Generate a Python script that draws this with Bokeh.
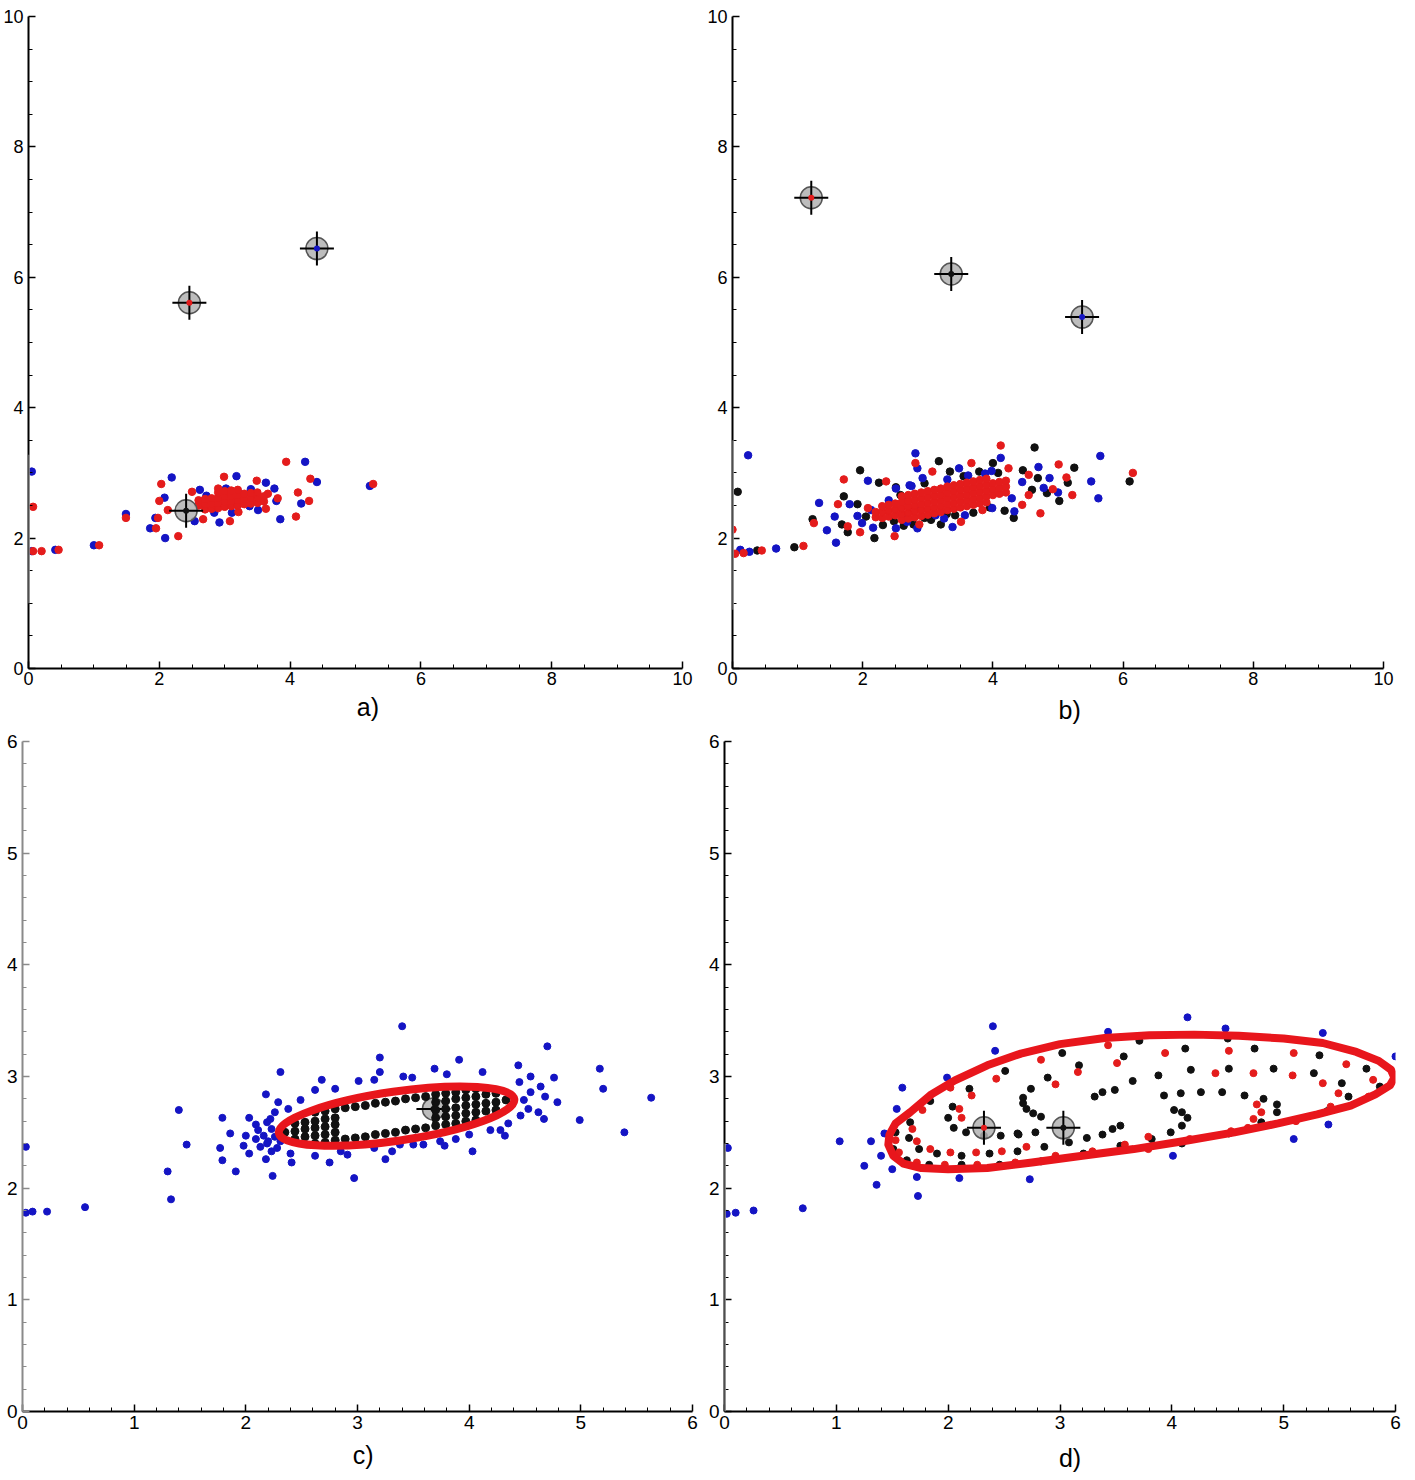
from bokeh.plotting import figure
from bokeh.layouts import column, row
from bokeh.models import Range1d, FixedTicker, LinearAxis, Arrow
from bokeh.embed import file_html
from bokeh.resources import INLINE

FONT = "Liberation Sans"
BLUE = "#1414c4"
RED = "#e41c1c"
BLACK = "#111111"
RING = "#e8161c"

# ---------------- panel a ----------------
a_blue_x = [0.05, 0.05, 0.41, 1.00, 1.49, 1.86, 1.94, 2.09, 2.08, 2.19, 2.62, 2.54, 2.92, 3.02, 3.18, 2.84,
            3.11, 3.63, 3.76, 3.51, 3.79, 3.85, 4.23, 4.41, 4.17, 2.72, 3.40, 3.25, 3.15, 2.95, 3.38, 5.22]
a_blue_y = [3.02, 1.80, 1.82, 1.89, 2.37, 2.15, 2.31, 2.00, 2.62, 2.93, 2.74, 2.26, 2.24, 2.76, 2.95, 2.39,
            2.39, 2.85, 2.76, 2.43, 2.57, 2.29, 3.17, 2.86, 2.53, 2.65, 2.75, 2.67, 2.54, 2.57, 2.49, 2.80]
a_red_x = [0.07, 0.07, 0.20, 0.46, 1.08, 1.49, 1.95, 1.98, 2.29, 2.03, 2.00, 2.13, 2.50, 2.67, 2.99, 2.90,
           3.08, 3.21, 3.49, 3.63, 3.66, 3.94, 4.12, 4.09, 4.31, 4.29, 3.81, 5.27,
           2.60, 2.60, 2.70, 2.70, 2.70, 2.80, 2.80, 2.80, 2.90, 2.90, 2.90, 2.90, 3.00, 3.00, 3.00, 3.00,
           3.10, 3.10, 3.10, 3.10, 3.20, 3.20, 3.20, 3.20, 3.30, 3.30, 3.30, 3.40, 3.40, 3.40, 3.50, 3.50,
           3.50, 3.60, 3.60]
a_red_y = [2.48, 1.80, 1.80, 1.82, 1.89, 2.31, 2.15, 2.31, 2.03, 2.83, 2.57, 2.43, 2.71, 2.29, 2.94, 2.76,
           2.26, 2.40, 2.88, 2.45, 2.68, 3.17, 2.70, 2.33, 2.91, 2.57, 2.61, 2.83,
           2.50, 2.58, 2.44, 2.52, 2.60, 2.45, 2.53, 2.61, 2.46, 2.54, 2.62, 2.70, 2.48, 2.56, 2.64, 2.72,
           2.49, 2.57, 2.65, 2.73, 2.50, 2.58, 2.66, 2.74, 2.52, 2.60, 2.68, 2.53, 2.61, 2.69, 2.54, 2.62,
           2.70, 2.56, 2.64]
a_mark_x = [2.46, 4.41, 2.41]
a_mark_y = [5.61, 6.44, 2.42]
a_mark_c = [RED, BLUE, BLACK]

# ---------------- panel b ----------------
b_black_x = [0.08, 0.38, 0.95, 1.23, 1.68, 1.71, 1.77, 1.92, 1.96, 2.18, 2.25, 2.05, 2.31, 2.51, 2.63, 2.95,
             4.64, 3.17, 4.00, 3.79, 4.46, 5.25, 6.10, 5.15, 4.69, 4.83, 5.02, 4.32, 4.18, 4.60, 3.20, 3.29, 3.34,
             2.48, 2.78, 3.05, 3.42, 3.70, 3.95, 2.58, 2.95, 3.55, 4.08]
b_black_y = [2.71, 1.81, 1.86, 2.29, 2.21, 2.64, 2.09, 2.52, 3.04, 2.00, 2.85, 2.33, 2.20, 2.78, 2.19, 2.31,
             3.39, 3.18, 3.15, 3.02, 3.04, 3.08, 2.87, 2.85, 2.92, 2.69, 2.57, 2.31, 2.42, 2.74, 2.21, 2.37, 3.02,
             2.26, 2.21, 2.28, 2.35, 2.39, 2.47, 2.66, 2.84, 2.95, 3.00]
b_blue_x = [0.24, 0.12, 0.26, 0.67, 1.33, 1.45, 1.59, 1.57, 1.80, 1.92, 1.99, 2.08, 2.16, 2.13, 2.81, 2.72,
            2.92, 2.51, 4.12, 3.48, 4.70, 5.65, 5.51, 5.62, 4.87, 4.78, 5.00, 4.33, 4.29, 4.45, 3.38, 3.57,
            3.99, 3.98, 2.51, 2.64, 2.81, 2.84, 2.61, 2.84, 3.12, 2.40, 2.68, 3.25, 3.62, 3.88, 2.75, 3.30]
b_blue_y = [3.27, 1.82, 1.79, 1.84, 2.54, 2.12, 1.93, 2.33, 2.52, 2.34, 2.23, 2.88, 2.16, 2.43, 3.30, 2.81,
            2.92, 2.15, 3.23, 3.07, 3.09, 3.26, 2.87, 2.61, 2.92, 2.77, 2.70, 2.41, 2.61, 2.86, 2.17, 2.35,
            2.46, 3.03, 2.76, 2.58, 2.46, 3.07, 2.36, 2.15, 2.35, 2.58, 2.25, 2.30, 2.96, 2.99, 2.80, 2.90]
b_red_x = [0.00, 0.04, 0.17, 0.45, 1.09, 1.25, 1.62, 1.71, 1.77, 1.96, 2.08, 2.49, 2.36, 2.81, 2.87, 4.12,
           3.67, 4.24, 5.01, 6.15, 5.22, 5.13, 4.55, 4.92, 4.73, 4.45, 4.55, 3.51, 3.84, 3.07,
           2.2, 2.2, 2.3, 2.3, 2.3,
           2.4, 2.4, 2.4, 2.5, 2.5, 2.5,
           2.6, 2.6, 2.6, 2.6, 2.6, 2.7, 2.7, 2.7, 2.7, 2.7, 2.8, 2.8, 2.8, 2.8, 2.8,
           2.9, 2.9, 2.9, 2.9, 2.9, 3.0, 3.0, 3.0, 3.0, 3.0, 3.1, 3.1, 3.1, 3.1, 3.1,
           3.2, 3.2, 3.2, 3.2, 3.2, 3.3, 3.3, 3.3, 3.3, 3.3, 3.4, 3.4, 3.4, 3.4, 3.4,
           3.5, 3.5, 3.5, 3.5, 3.5, 3.6, 3.6, 3.6, 3.6, 3.6, 3.7, 3.7, 3.7, 3.7, 3.7,
           3.8, 3.8, 3.8, 3.8, 3.8, 3.9, 3.9, 3.9, 3.9, 3.9,
           4.0, 4.0, 4.0, 4.1, 4.1, 4.1, 4.2, 4.2, 4.2]
b_red_y = [2.13, 1.76, 1.77, 1.81, 1.88, 2.23, 2.52, 2.90, 2.18, 2.09, 2.46, 2.03, 2.87, 3.15, 2.21, 3.42,
           3.15, 3.07, 3.13, 3.00, 2.66, 2.93, 2.97, 2.75, 2.38, 2.51, 2.66, 2.25, 2.43, 3.02,
           2.32, 2.40, 2.31, 2.40, 2.49,
           2.33, 2.42, 2.51, 2.35, 2.44, 2.53,
           2.28, 2.37, 2.46, 2.55, 2.64, 2.30, 2.39, 2.48, 2.57, 2.66, 2.32, 2.41, 2.50, 2.59, 2.68,
           2.34, 2.43, 2.52, 2.61, 2.70, 2.36, 2.45, 2.54, 2.63, 2.72, 2.38, 2.47, 2.56, 2.65, 2.74,
           2.40, 2.49, 2.58, 2.67, 2.76, 2.43, 2.52, 2.61, 2.70, 2.79, 2.45, 2.54, 2.63, 2.72, 2.81,
           2.47, 2.56, 2.65, 2.74, 2.83, 2.49, 2.58, 2.67, 2.76, 2.85, 2.51, 2.60, 2.69, 2.78, 2.87,
           2.53, 2.62, 2.71, 2.80, 2.89, 2.55, 2.64, 2.73, 2.82, 2.91,
           2.66, 2.75, 2.84, 2.68, 2.77, 2.86, 2.70, 2.79, 2.88]
b_mark_x = [1.21, 3.36, 5.37]
b_mark_y = [7.22, 6.05, 5.39]
b_mark_c = [RED, BLACK, BLUE]

# ---------------- panel c ----------------
c_blue_x = [0.03, 0.03, 0.09, 0.22, 0.56, 1.40, 1.30, 1.33, 1.47, 1.79, 1.86, 1.77, 1.79, 1.91, 2.00, 1.98,
            2.03, 2.03, 2.09, 2.09, 2.11, 2.13, 2.18, 2.18, 2.24, 2.22, 2.26, 2.29, 2.16, 2.19, 2.23, 2.31,
            3.40, 4.70, 3.20, 3.91, 3.20, 4.44, 2.68, 3.69, 4.12, 4.76, 4.79, 4.64, 4.68, 4.55, 4.49, 4.53,
            4.62, 4.67, 4.46, 4.35, 4.28, 4.32, 4.03, 3.88, 3.78, 3.50, 3.31, 3.25, 2.97, 2.75, 2.91, 2.62,
            2.41, 2.38, 2.49, 2.62, 2.80, 3.01, 3.15, 3.41, 3.49, 3.80, 2.40, 2.85, 3.15, 3.38, 3.59, 3.74,
            4.00, 4.19, 2.19, 2.23, 2.26, 2.31, 2.20, 2.28, 5.63, 5.17, 5.20, 4.99, 5.39, 4.45, 4.55]
c_blue_y = [2.37, 1.78, 1.79, 1.79, 1.83, 2.70, 2.15, 1.90, 2.39, 2.63, 2.49, 2.36, 2.25, 2.15, 2.47, 2.38,
            2.63, 2.31, 2.44, 2.57, 2.52, 2.37, 2.26, 2.84, 2.11, 2.62, 2.68, 2.77, 2.47, 2.40, 2.33, 3.04,
            3.45, 3.27, 3.17, 3.15, 3.04, 3.10, 2.97, 3.07, 3.04, 2.99, 2.77, 2.91, 2.82, 2.86, 2.79, 2.71,
            2.68, 2.62, 2.65, 2.58, 2.52, 2.47, 2.33, 2.44, 2.38, 2.39, 2.33, 2.26, 2.09, 2.23, 2.30, 2.29,
            2.23, 2.71, 2.79, 2.88, 2.89, 2.96, 2.97, 3.00, 2.99, 3.02, 2.31, 2.33, 2.36, 2.39, 2.39, 2.42,
            2.48, 2.52, 2.59, 2.53, 2.46, 2.42, 2.42, 2.36, 2.81, 3.07, 2.89, 2.61, 2.50, 2.95, 3.00]
c_black_x = [2.35, 2.44, 2.53, 2.62, 2.71, 2.80, 3.70, 3.79, 3.88, 3.97, 4.06, 4.15, 4.24, 4.33,
             2.44, 2.53, 2.62, 2.71, 2.80, 3.70, 3.79, 3.88, 3.97, 4.06, 4.15, 4.24,
             2.44, 2.53, 2.62, 2.71, 2.80, 3.70, 3.79, 3.88, 3.97, 4.06, 4.15, 4.24,
             2.62, 2.71, 2.80, 2.89, 2.98, 3.07, 3.16, 3.25, 3.34, 3.43, 3.52, 3.61, 3.70, 3.79, 3.88, 3.97, 4.06,
             2.62, 2.71, 2.80, 2.89, 2.98, 3.07, 3.16, 3.25, 3.34, 3.43, 3.52, 3.61, 3.70, 3.79, 3.88, 3.97, 4.06]
c_black_y = [2.50, 2.51, 2.53, 2.54, 2.55, 2.57, 2.70, 2.71, 2.72, 2.74, 2.75, 2.76, 2.77, 2.79,
             2.44, 2.46, 2.47, 2.48, 2.50, 2.63, 2.64, 2.65, 2.67, 2.68, 2.69, 2.70,
             2.58, 2.59, 2.60, 2.62, 2.63, 2.77, 2.78, 2.80, 2.81, 2.82, 2.84, 2.85,
             2.68, 2.69, 2.71, 2.72, 2.73, 2.74, 2.76, 2.77, 2.78, 2.80, 2.81, 2.82, 2.84, 2.85, 2.86, 2.88, 2.89,
             2.40, 2.41, 2.43, 2.44, 2.45, 2.46, 2.48, 2.49, 2.50, 2.52, 2.53, 2.54, 2.56, 2.57, 2.58, 2.60, 2.61]
c_mark_x = [3.68]
c_mark_y = [2.71]
c_mark_c = [BLACK]
# ellipse: centre x, centre y, full width, full height, angle (rad)
c_ell = [3.35, 2.645, 2.13, 0.44, 0.143]

# ---------------- panel d ----------------
d_blue_x = [0.02, 0.10, 0.26, 0.70, 0.03, 1.03, 1.31, 1.25, 1.36, 1.40, 1.50, 1.43, 1.54, 1.59, 1.72, 1.73,
            1.99, 2.10, 2.40, 2.42, 4.14, 3.43, 4.48, 5.35, 6.00, 6.04, 5.40, 5.09, 4.01, 2.73]
d_blue_y = [1.77, 1.78, 1.80, 1.82, 2.36, 2.42, 2.42, 2.20, 2.03, 2.29, 2.17, 2.49, 2.71, 2.90, 2.10, 1.93,
            2.99, 2.09, 3.45, 3.23, 3.53, 3.40, 3.43, 3.39, 3.18, 2.94, 2.57, 2.44, 2.29, 2.08]
d_black_x = [2.51, 2.19, 1.84, 2.04, 2.00, 2.05, 1.66, 1.65, 2.16, 1.74, 1.90, 2.12, 2.37, 2.32, 2.47, 2.62,
             1.63, 1.51, 1.53, 1.83, 2.12, 2.46, 2.74, 2.67, 2.67, 2.70, 2.76, 2.83, 2.89, 3.02, 3.17, 3.57,
             3.65, 3.49, 3.38, 3.31, 3.71, 3.88, 4.12, 4.17, 3.93, 4.08, 4.26, 4.45, 4.50, 4.51, 4.65, 4.74,
             4.82, 4.91, 4.94, 4.94, 4.80, 5.27, 5.32, 5.52, 5.58, 5.74, 5.86, 5.39, 4.02, 4.09, 4.14, 4.09,
             3.99, 3.54, 3.47, 3.38, 2.63, 2.78, 2.86, 3.08, 3.24, 2.62, 3.21, 3.54, 3.82, 4.09, 4.51, 2.83]
d_black_y = [3.05, 2.89, 2.78, 2.73, 2.63, 2.54, 2.59, 2.45, 2.50, 2.35, 2.31, 2.29, 2.31, 2.47, 2.47, 2.49,
             2.25, 2.35, 2.50, 2.21, 2.21, 2.21, 2.89, 2.81, 2.76, 2.71, 2.67, 2.64, 2.99, 3.21, 3.10, 3.18,
             2.96, 2.88, 2.86, 2.82, 3.32, 3.01, 3.25, 3.06, 2.83, 2.85, 2.86, 2.86, 3.34, 3.07, 2.83, 3.25,
             2.80, 3.07, 2.75, 2.68, 2.59, 3.03, 3.19, 2.94, 2.82, 3.07, 2.91, 2.69, 2.70, 2.68, 2.63, 2.56,
             2.50, 2.56, 2.53, 2.48, 2.48, 2.50, 2.37, 2.41, 2.45, 2.33, 2.31, 2.38, 2.44, 2.40, 2.49, 2.24]
d_red_x = [2.43, 2.21, 2.10, 2.12, 1.77, 1.68, 1.72, 1.53, 1.56, 1.84, 2.02, 2.25, 2.48, 1.72, 1.97, 2.26,
           2.60, 2.02, 2.83, 3.16, 2.96, 3.43, 3.51, 3.94, 4.39, 4.51, 4.73, 5.08, 5.09, 5.35, 5.49, 5.56,
           5.80, 5.76, 5.42, 4.76, 4.80, 4.73, 4.53, 3.79, 3.58, 4.16, 3.29, 2.96, 2.70, 5.11, 3.79, 4.68]
d_red_y = [2.98, 2.83, 2.71, 2.63, 2.70, 2.53, 2.42, 2.43, 2.32, 2.35, 2.32, 2.32, 2.33, 2.23, 2.21, 2.21,
           2.23, 2.90, 3.15, 3.04, 2.93, 3.28, 3.12, 3.21, 3.03, 3.23, 3.03, 3.01, 3.21, 2.94, 2.85, 3.11,
           2.97, 2.82, 2.73, 2.75, 2.68, 2.62, 2.51, 2.46, 2.39, 2.44, 2.33, 2.29, 2.37, 2.60, 2.35, 2.54]
d_mark_x = [2.32, 3.03]
d_mark_y = [2.54, 2.54]
d_mark_c = [RED, BLACK]
# boundary of the region in d
d_ring_x = [1.465, 1.475, 1.53, 1.66, 1.85, 2.06, 2.35, 2.65, 3.00, 3.40, 3.80, 4.20, 4.60, 5.00, 5.35,
            5.65, 5.85, 5.96, 5.99, 5.95, 5.82, 5.60, 5.30, 4.95, 4.56, 4.10, 3.66, 3.20, 2.75, 2.35,
            2.00, 1.76, 1.60, 1.51]
d_ring_y = [2.39, 2.48, 2.58, 2.68, 2.84, 2.965, 3.10, 3.205, 3.29, 3.345, 3.37, 3.375, 3.365, 3.34, 3.30,
            3.22, 3.14, 3.06, 2.99, 2.92, 2.84, 2.74, 2.66, 2.58, 2.50, 2.42, 2.35, 2.29, 2.23, 2.18,
            2.17, 2.18, 2.22, 2.29]

ticks_10 = [0, 2, 4, 6, 8, 10]
ticks_6 = [0, 1, 2, 3, 4, 5, 6]
panel_labels = ["a)", "b)", "c)", "d)"]
panel_label_x = [5.19, 5.18, 3.05, 3.09]


def make_fig(vmax, ticks, minor, width, height, bl, br, bt, bb, fsize, ycolor, xstand):
    p = figure(width=width, height=height, x_range=Range1d(0, vmax), y_range=Range1d(0, vmax),
               output_backend="svg", toolbar_location=None,
               min_border_left=bl, min_border_right=br, min_border_top=bt, min_border_bottom=bb)
    p.outline_line_color = None
    p.grid.visible = False
    for ax, col, st in ((p.xaxis[0], "black", xstand), (p.yaxis[0], ycolor, 5)):
        ax.ticker = FixedTicker(ticks=ticks, minor_ticks=minor)
        ax.axis_line_width = 2
        ax.axis_line_color = col
        ax.major_tick_line_color = col
        ax.minor_tick_line_color = col
        ax.major_tick_in = 7
        ax.major_tick_out = 0
        ax.minor_tick_in = 4
        ax.minor_tick_out = 0
        ax.major_tick_line_width = 1.5
        ax.minor_tick_line_width = 1
        ax.major_label_text_font = FONT
        ax.major_label_text_font_size = fsize
        ax.major_label_text_color = "black"
        ax.major_label_standoff = st
    return p


def add_panel_label(p, text, x, standoff):
    lab = LinearAxis(ticker=FixedTicker(ticks=[x], minor_ticks=[]), major_label_overrides={x: text},
                     axis_line_color=None, major_tick_line_color=None, minor_tick_line_color=None,
                     major_tick_in=0, major_tick_out=0, minor_tick_in=0, minor_tick_out=0,
                     major_label_standoff=standoff, major_label_text_font=FONT,
                     major_label_text_font_size="25px", major_label_text_color="black")
    p.add_layout(lab, "below")


def grey_axis_part(p, y0, y1):
    p.add_layout(Arrow(end=None, start=None, x_start=0, y_start=y0, x_end=0, y_end=y1,
                       line_color="#9c9c9c", line_width=2.5, level="overlay"))


def add_markers(p, mx, my, mc):
    p.scatter(mx, my, marker="circle", size=22, fill_color="#b2b2b2", fill_alpha=0.85,
              line_color="#555555", line_width=1.5)
    p.scatter(mx, my, marker="cross", size=34, line_color="black", line_width=2)
    p.scatter(mx, my, marker="circle", size=6, fill_color=mc, line_color=None)


minor10 = [v * 0.5 for v in range(21) if v % 4]
minor6 = [v * 0.2 for v in range(31) if v % 5]

# row 1: height 728 ; a frame x 27..682, y 14..668 ; b frame x 729..1383, y 16..671
pa = make_fig(10, ticks_10, minor10, 704, 728, 27, 22, 14, 60, "18px", "black", 3)
grey_axis_part(pa, 1.0, 3.28)
pa.scatter(a_blue_x, a_blue_y, size=7.5, color=BLUE)
pa.scatter(a_red_x, a_red_y, size=7.5, color=RED)
add_markers(pa, a_mark_x, a_mark_y, a_mark_c)
add_panel_label(pa, panel_labels[0], panel_label_x[0], 5)

pb = make_fig(10, ticks_10, minor10, 693, 728, 25, 14, 16, 57, "18px", "black", 3)
grey_axis_part(pb, 0.9, 3.5)
pb.scatter(b_black_x, b_black_y, size=7.5, color=BLACK)
pb.scatter(b_blue_x, b_blue_y, size=7.5, color=BLUE)
pb.scatter(b_red_x, b_red_y, size=7.5, color=RED)
add_markers(pb, b_mark_x, b_mark_y, b_mark_c)
add_panel_label(pb, panel_labels[1], panel_label_x[1], 8)

# row 2: height 750 ; c frame x 22..692, y 738..1411 ; d frame x 724..1395, y 741..1413
pc = make_fig(6, ticks_6, minor6, 702, 750, 22, 10, 10, 67, "19px", "#8a8a8a", 4)
pc.scatter(c_blue_x, c_blue_y, size=7, color=BLUE)
add_markers(pc, c_mark_x, c_mark_y, c_mark_c)
pc.scatter(c_black_x, c_black_y, size=8, color=BLACK)
pc.ellipse(x=[c_ell[0]], y=[c_ell[1]], width=[c_ell[2]], height=[c_ell[3]], angle=[c_ell[4]],
           fill_color=None, line_color=RING, line_width=8)
add_panel_label(pc, panel_labels[2], panel_label_x[2], 9)

pd = make_fig(6, ticks_6, minor6, 708, 750, 22, 15, 13, 65, "19px", "black", 4)
grey_axis_part(pd, 0.0, 2.4)
pd.scatter(d_blue_x, d_blue_y, size=7, color=BLUE)
pd.scatter(d_black_x, d_black_y, size=7, color=BLACK)
pd.scatter(d_red_x, d_red_y, size=7, color=RED)
pd.patch(d_ring_x, d_ring_y, fill_color=None, line_color=RING, line_width=8, line_join="round")
add_markers(pd, d_mark_x, d_mark_y, d_mark_c)
add_panel_label(pd, panel_labels[3], panel_label_x[3], 12)

layout = column(row(pa, pb), row(pc, pd))
open("out.html", "w").write(file_html(layout, INLINE))
